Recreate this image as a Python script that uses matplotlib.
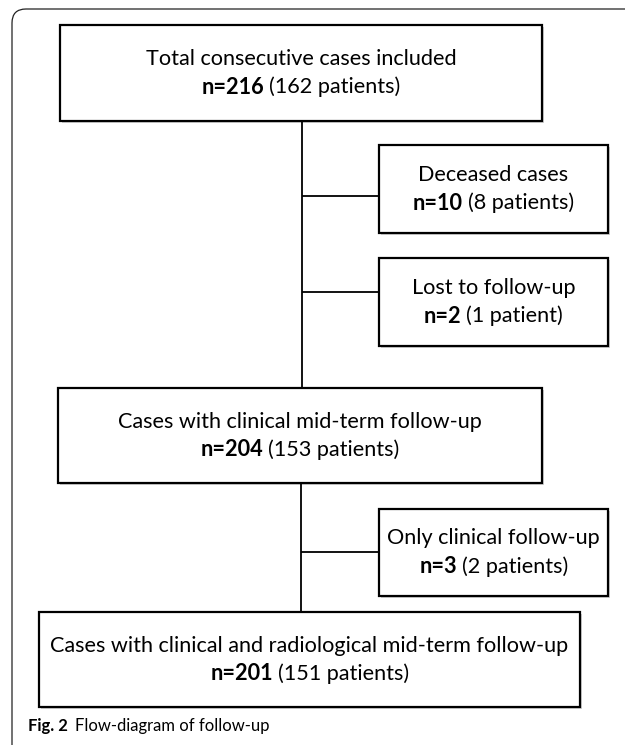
import matplotlib
matplotlib.use("Agg")
import matplotlib.pyplot as plt
from matplotlib.patches import Rectangle
from matplotlib.path import Path
from matplotlib.patches import PathPatch

# flow-diagram content
titles = ["Total consecutive cases included",
          "Deceased cases",
          "Lost to follow-up",
          "Cases with clinical mid-term follow-up",
          "Only clinical follow-up",
          "Cases with clinical and radiological mid-term follow-up"]
case_counts = [216, 10, 2, 204, 3, 201]
patient_counts = [162, 8, 1, 153, 2, 151]
caption_label = "Fig. 2"
caption_text = "Flow-diagram of follow-up"

FONT = "Lato"
FS = 15.6

fig = plt.figure(figsize=(6.25, 7.48), dpi=100)
ax = fig.add_axes([0, 0, 1, 1])
ax.set_xlim(0, 625)
ax.set_ylim(748, 0)
ax.axis("off")
renderer = fig.canvas.get_renderer()


def draw_box(x0, y0, x1, y1):
    # faint drop shadow then the box itself
    ax.add_patch(Rectangle((x0 + 2, y0 + 2), x1 - x0, y1 - y0,
                           facecolor="#d0d0d0", edgecolor="none", zorder=1))
    ax.add_patch(Rectangle((x0, y0), x1 - x0, y1 - y0,
                           facecolor="white", edgecolor="black", lw=1.6, zorder=2))


def bold_then_plain(cx, y, bold, plain, fs):
    t1 = ax.text(0, y, bold, fontsize=fs, family=FONT, weight="bold",
                 ha="left", va="center", zorder=3)
    t2 = ax.text(0, y, plain, fontsize=fs, family=FONT,
                 ha="left", va="center", zorder=3)
    w1 = t1.get_window_extent(renderer).width
    w2 = t2.get_window_extent(renderer).width
    gap = fs * 0.3
    left = cx - (w1 + gap + w2) / 2
    t1.set_x(left)
    t2.set_x(left + w1 + gap)


def labelled_box(i, x0, y0, x1, y1):
    draw_box(x0, y0, x1, y1)
    cx = (x0 + x1) / 2
    cy = (y0 + y1) / 2
    ax.text(cx, cy - 14, titles[i], fontsize=FS, family=FONT,
            ha="center", va="center", zorder=3)
    word = "patient" if patient_counts[i] == 1 else "patients"
    bold_then_plain(cx, cy + 14, "n=%d" % case_counts[i],
                    "(%d %s)" % (patient_counts[i], word), FS)


labelled_box(0, 60, 25, 542, 121)
labelled_box(1, 379, 145, 608, 233)
labelled_box(2, 379, 258, 608, 346)
labelled_box(3, 58, 388, 542, 483)
labelled_box(4, 379, 509, 608, 596)
labelled_box(5, 39, 612, 580, 707)

# connectors
lk = dict(color="black", lw=1.3, zorder=1.5, solid_capstyle="butt")
ax.plot([302, 302], [121, 388], **lk)
ax.plot([302, 379], [196, 196], **lk)
ax.plot([302, 379], [292, 292], **lk)
ax.plot([301, 301], [483, 612], **lk)
ax.plot([301, 379], [552, 552], **lk)

# outer frame with rounded top-left corner
r = 14
verts = [(12, 745), (12, 9 + r), (12, 9), (12 + r, 9), (625, 9)]
codes = [Path.MOVETO, Path.LINETO, Path.CURVE3, Path.CURVE3, Path.LINETO]
ax.add_patch(PathPatch(Path(verts, codes), facecolor="none",
                       edgecolor="#222222", lw=0.9, zorder=1))

# caption
c1 = ax.text(28, 726, caption_label, fontsize=12, family=FONT,
             weight="bold", ha="left", va="center")
w = c1.get_window_extent(renderer).width
ax.text(28 + w + 7, 726, caption_text, fontsize=12, family=FONT,
        ha="left", va="center")

fig.savefig("out.png", dpi=100)
